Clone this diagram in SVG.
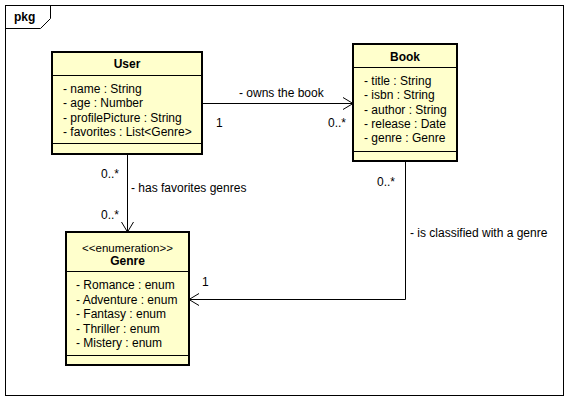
<svg xmlns="http://www.w3.org/2000/svg" width="568" height="402" viewBox="0 0 568 402">
<style>
text{font-family:"Liberation Sans",Arial,sans-serif;font-size:12px;fill:#000}
.b{font-weight:bold}
.m{text-anchor:middle}
.box{fill:#FFFFCC;stroke:#000;stroke-width:2}
.sep{stroke:#000;stroke-width:1;fill:none}
.ln{stroke:#000;stroke-width:1;fill:none}
</style>
<rect width="568" height="402" fill="#fff"/>
<g id="frame">
<rect x="5.5" y="5.5" width="558" height="390" fill="none" stroke="#000"/>
<path d="M5.5,28.5 H40.5 L50.5,18.5 V5.5" fill="none" stroke="#000"/>
<text x="14" y="21" class="b">pkg</text>
</g>
<g id="connectors">
<path class="ln" d="M202,103.5 H353"/>
<path class="ln" d="M343,97.5 L353,103.5 L343,109.5"/>
<path class="ln" d="M127.5,154 V232"/>
<path class="ln" d="M121.5,222 L127.5,232 L133.5,222"/>
<path class="ln" d="M405.5,161 V299.5 H189"/>
<path class="ln" d="M199,293.5 L189,299.5 L199,305.5"/>
<text x="239" y="97">- owns the book</text>
<text x="216" y="127">1</text>
<text x="328" y="127">0..*</text>
<text x="101" y="178">0..*</text>
<text x="131" y="192">- has favorites genres</text>
<text x="101" y="219">0..*</text>
<text x="377" y="186">0..*</text>
<text x="410" y="237">- is classified with a genre</text>
<text x="202" y="286">1</text>
</g>
<g id="User">
<rect class="box" x="52" y="52" width="150" height="102"/>
<path class="sep" d="M52,75.5 H202 M52,143.5 H202"/>
<text x="127" y="68" class="b m">User</text>
<text x="63" y="93">- name : String</text>
<text x="63" y="107.3">- age : Number</text>
<text x="63" y="121.6">- profilePicture : String</text>
<text x="63" y="136">- favorites : List&lt;Genre&gt;</text>
</g>
<g id="Book">
<rect class="box" x="353" y="44" width="104" height="117"/>
<path class="sep" d="M353,67.5 H457 M353,151.5 H457"/>
<text x="405" y="60.5" class="b m">Book</text>
<text x="364" y="85">- title : String</text>
<text x="364" y="99.3">- isbn : String</text>
<text x="364" y="113.6">- author : String</text>
<text x="364" y="128">- release : Date</text>
<text x="364" y="142.3">- genre : Genre</text>
</g>
<g id="Genre">
<rect class="box" x="66" y="232" width="123" height="133"/>
<path class="sep" d="M66,271.5 H189 M66,355.5 H189"/>
<text x="127.5" y="251.5" class="m" style="font-size:11.5px">&lt;&lt;enumeration&gt;&gt;</text>
<text x="127.5" y="265" class="b m">Genre</text>
<text x="76" y="289.3">- Romance : enum</text>
<text x="76" y="303.8">- Adventure : enum</text>
<text x="76" y="318.3">- Fantasy : enum</text>
<text x="76" y="332.8">- Thriller : enum</text>
<text x="76" y="347.3">- Mistery : enum</text>
</g>
</svg>
